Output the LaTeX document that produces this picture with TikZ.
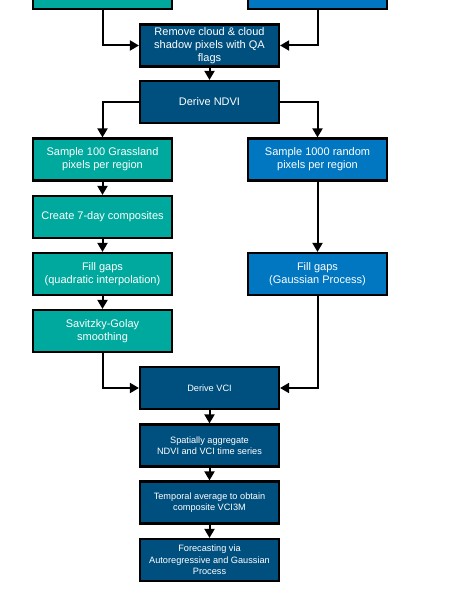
\documentclass[tikz,border=0pt]{standalone}
\usepackage{fontspec}
\setmainfont{Liberation Sans}
\usetikzlibrary{arrows.meta}
\definecolor{tealbox}{HTML}{00A99D}
\definecolor{bluebox}{HTML}{0077C0}
\definecolor{navybox}{HTML}{00507F}
\tikzset{
  box/.style={draw=black, line width=2.2pt, minimum width=139pt, minimum height=42pt,
    inner sep=1pt, align=center, text=white,
    font=\fontsize{11}{13}\selectfont},
  smallbox/.style={box, font=\fontsize{9.2}{11.3}\selectfont},
  tealnode/.style={box, fill=tealbox},
  bluenode/.style={box, fill=bluebox},
  navynode/.style={box, fill=navybox},
  navysmall/.style={smallbox, fill=navybox},
  conn/.style={draw=black, line width=2pt, -{Triangle[width=10pt,length=9pt]}}
}
\begin{document}
\begin{tikzpicture}[x=1pt, y=-1pt]
\useasboundingbox (0,0) rectangle (452,596);
\clip (0,0) rectangle (452,596);
\node[tealnode] (topL) at (102.5,-12) {};
\node[bluenode] (topR) at (317.5,-12) {};
\node[navynode] (remove) at (209.5,45.5) {Remove cloud \& cloud\\shadow pixels with QA\\flags};
\node[navynode] (ndvi) at (209.5,102) {Derive NDVI};
\node[tealnode] (s100) at (102.5,159.5) {Sample 100 Grassland\\pixels per region};
\node[bluenode] (s1000) at (317.5,159.5) {Sample 1000 random\\pixels per region};
\node[tealnode] (c7) at (102.5,217) {Create 7-day composites};
\node[tealnode] (fgL) at (102.5,274) {Fill gaps\\(quadratic interpolation)};
\node[bluenode] (fgR) at (317.5,274) {\raisebox{6pt}{\begin{tabular}{@{}c@{}}Fill gaps\\(Gaussian Process)\end{tabular}}};
\node[tealnode] (sg) at (102.5,331) {Savitzky-Golay\\smoothing};
\node[navysmall] (vci) at (209.5,388) {Derive VCI};
\node[navysmall] (spat) at (209.5,445.5) {Spatially aggregate\\NDVI and VCI time series};
\node[navysmall] (temp) at (209.5,502.5) {Temporal average to obtain\\composite VCI3M};
\node[navysmall] (fore) at (209.5,560) {Forecasting via\\Autoregressive and Gaussian\\Process};
\draw[conn] (topL.south) |- (remove.west);
\draw[conn] (topR.south) |- (remove.east);
\draw[conn] (remove) -- (ndvi);
\draw[conn] (ndvi.west) -| (s100.north);
\draw[conn] (ndvi.east) -| (s1000.north);
\draw[conn] (s100) -- (c7);
\draw[conn] (c7) -- (fgL);
\draw[conn] (fgL) -- (sg);
\draw[conn] (sg.south) |- (vci.west);
\draw[conn] (s1000) -- (fgR);
\draw[conn] (fgR.south) |- (vci.east);
\draw[conn] (vci) -- (spat);
\draw[conn] (spat) -- (temp);
\draw[conn] (temp) -- (fore);
\end{tikzpicture}
\end{document}
